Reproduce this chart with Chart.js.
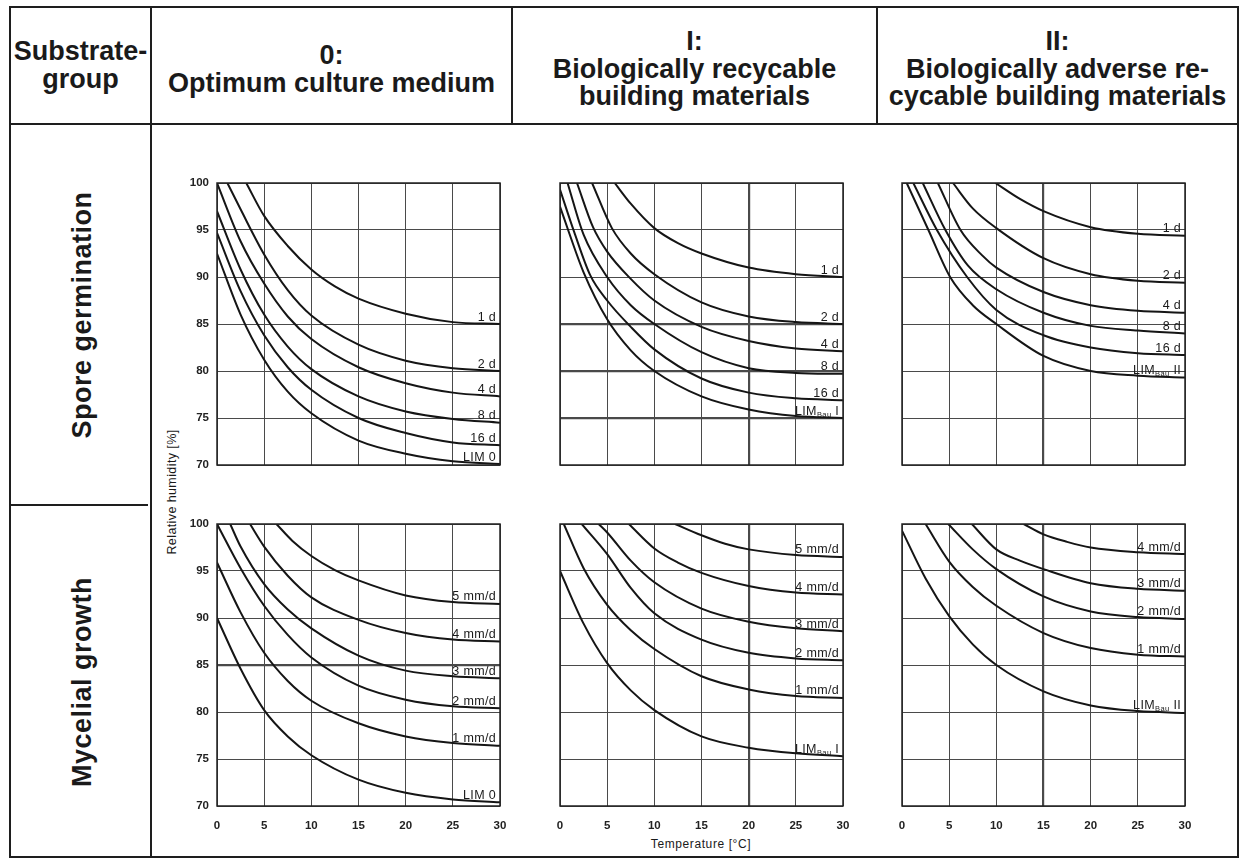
<!DOCTYPE html>
<html>
<head>
<meta charset="utf-8">
<script src="https://cdn.jsdelivr.net/npm/chart.js@4.4.1/dist/chart.umd.min.js"></script>
<style>
  html,body{margin:0;padding:0;background:#fff;}
  #root{position:relative;width:1243px;height:859px;overflow:hidden;background:#fff;font-family:"Liberation Sans",Arial,sans-serif;color:#1a1a1a;}
  .ln{position:absolute;background:#1e1e1e;}
  .hd{position:absolute;display:flex;align-items:center;justify-content:center;text-align:center;font-weight:bold;font-size:27px;line-height:27.5px;}
  .rot{position:absolute;transform:translate(-50%,-50%) rotate(-90deg);white-space:nowrap;}
  .pn{position:absolute;}
</style>
</head>
<body>
<div id="root">
  <!-- table lines -->
  <div class="ln" style="left:9px;top:6px;width:1230px;height:2px;"></div>
  <div class="ln" style="left:9px;top:856px;width:1230px;height:2px;"></div>
  <div class="ln" style="left:9px;top:6px;width:2px;height:852px;"></div>
  <div class="ln" style="left:1237px;top:6px;width:2px;height:852px;"></div>
  <div class="ln" style="left:150px;top:6px;width:2px;height:852px;"></div>
  <div class="ln" style="left:9px;top:123px;width:1230px;height:2px;"></div>
  <div class="ln" style="left:511px;top:6px;width:2px;height:118px;"></div>
  <div class="ln" style="left:876px;top:6px;width:2px;height:118px;"></div>
  <div class="ln" style="left:9px;top:504px;width:139px;height:2px;"></div>

  <!-- header texts -->
  <div class="hd" style="left:11px;top:8px;width:139px;height:115px;">Substrate-<br>group</div>
  <div class="hd" style="left:152px;top:12px;width:359px;height:115px;">0:<br>Optimum culture medium</div>
  <div class="hd" style="left:513px;top:12px;width:363px;height:115px;">I:<br>Biologically recycable<br>building materials</div>
  <div class="hd" style="left:878px;top:12px;width:359px;height:115px;">II:<br>Biologically adverse re-<br>cycable building materials</div>

  <!-- row labels -->
  <div class="rot" style="left:82px;top:315px;font-weight:bold;font-size:27px;letter-spacing:0.5px;">Spore germination</div>
  <div class="rot" style="left:82px;top:682px;font-weight:bold;font-size:27px;letter-spacing:0.5px;">Mycelial growth</div>

  <!-- axis titles -->
  <div class="rot" style="left:172px;top:492px;font-size:12.5px;letter-spacing:0.4px;">Relative humidity [%]</div>
  <div style="position:absolute;left:600px;width:202px;top:837px;text-align:center;font-size:12px;letter-spacing:0.6px;">Temperature [°C]</div>

  <div class="pn" style="left:167px;top:173px;"><canvas id="c1" width="343" height="332"></canvas></div>
  <div class="pn" style="left:510px;top:173px;"><canvas id="c2" width="343" height="332"></canvas></div>
  <div class="pn" style="left:852px;top:173px;"><canvas id="c3" width="343" height="332"></canvas></div>
  <div class="pn" style="left:167px;top:514px;"><canvas id="c4" width="343" height="332"></canvas></div>
  <div class="pn" style="left:510px;top:514px;"><canvas id="c5" width="343" height="332"></canvas></div>
  <div class="pn" style="left:852px;top:514px;"><canvas id="c6" width="343" height="332"></canvas></div>
</div>
<script>
// ---------- data (temperature °C, relative humidity %) ----------
const xTicks = [0, 5, 10, 15, 20, 25, 30];
const yTicks = [70, 75, 80, 85, 90, 95, 100];

const spore0Names = ['1 d', '2 d', '4 d', '8 d', '16 d', 'LIM 0'];
const spore0 = [
  [[3.1,100],[5,96.5],[7.5,93.3],[10,90.8],[12.5,89],[15,87.7],[20,86.1],[25,85.2],[30,85]],
  [[1.1,100],[2.5,97.2],[5,92.4],[7.5,88.6],[10,85.9],[15,82.8],[20,81.1],[25,80.3],[30,80]],
  [[0,100],[2.5,93.8],[5,89.3],[7.5,85.8],[10,83.4],[15,80.4],[20,78.7],[25,77.7],[30,77.3]],
  [[0,97],[2.5,90.8],[5,86],[7.5,82.6],[10,80.2],[15,77.3],[20,75.7],[25,74.9],[30,74.5]],
  [[0,94.7],[2.5,88.5],[5,83.8],[7.5,80.4],[10,78],[15,75],[20,73.4],[25,72.4],[30,72.1]],
  [[0,92.5],[2.5,86],[5,81.2],[7.5,77.8],[10,75.5],[15,72.6],[20,71.2],[25,70.4],[30,70.1]]
];

const spore1Names = ['1 d', '2 d', '4 d', '8 d', '16 d', 'LIM_Bau I'];
const spore1 = [
  [[5.8,100],[7.5,97.8],[10,95.2],[12.5,93.6],[15,92.5],[20,91],[25,90.3],[30,90]],
  [[3.4,100],[5.5,95.2],[7.5,92.5],[10,90.3],[15,87.3],[20,85.8],[25,85.2],[30,85]],
  [[1.8,100],[3.5,95.3],[5,92.7],[7.5,89.8],[10,87.5],[15,84.7],[20,83.2],[25,82.4],[30,82.1]],
  [[0.8,100],[2.5,94.5],[5,90],[7.5,87],[10,85],[15,82],[20,80.3],[25,79.8],[30,79.7]],
  [[0,99.3],[1.5,94.8],[3.2,90.2],[5,87.5],[7.5,84.7],[10,82.3],[15,79.2],[20,77.7],[25,77.1],[30,76.9]],
  [[0,97.5],[1,94.6],[2.5,90.5],[5,85.5],[7.5,82.2],[10,80],[15,77.3],[20,75.9],[25,75.2],[30,75]]
];

const spore2Names = ['1 d', '2 d', '4 d', '8 d', '16 d', 'LIM_Bau II'];
const spore2 = [
  [[9.9,100],[12.5,98.3],[15,97],[20,95.3],[25,94.6],[30,94.4]],
  [[5.4,100],[7.5,97.3],[10,95.2],[15,92],[20,90.3],[25,89.6],[30,89.4]],
  [[3.8,100],[6.2,95],[8.5,92.3],[10,91],[15,88.4],[20,87],[25,86.4],[30,86.2]],
  [[2.2,100],[4.6,95],[7,91.2],[10,88.7],[15,86.2],[20,84.8],[25,84.3],[30,84]],
  [[1.2,100],[3.7,95],[6.9,90],[10,86.5],[15,83.8],[20,82.5],[25,81.9],[30,81.7]],
  [[0.5,100],[2.8,95],[5.1,90],[7.5,87],[10,85],[15,81.6],[20,80],[25,79.5],[30,79.3]]
];

const myc0Names = ['5 mm/d', '4 mm/d', '3 mm/d', '2 mm/d', '1 mm/d', 'LIM 0'];
const myc0 = [
  [[6.3,100],[8,98.2],[10,96.6],[12.5,95.1],[15,94],[20,92.4],[25,91.7],[30,91.5]],
  [[3.5,100],[5,97.6],[7.5,94.5],[10,92.2],[15,89.8],[20,88.4],[25,87.7],[30,87.5]],
  [[1.4,100],[2.5,97.6],[5,93.6],[7.5,90.9],[10,88.9],[15,86],[20,84.4],[25,83.8],[30,83.6]],
  [[0,100],[2.5,95.3],[5,91.3],[7.5,88.2],[10,85.8],[15,82.8],[20,81.3],[25,80.6],[30,80.4]],
  [[0,95.9],[2.5,90.6],[5,86.3],[7.5,83.3],[10,81.2],[15,78.8],[20,77.4],[25,76.7],[30,76.4]],
  [[0,90],[2.5,84.6],[5,80.2],[7.5,77.4],[10,75.4],[15,72.8],[20,71.4],[25,70.7],[30,70.4]]
];

const myc1Names = ['5 mm/d', '4 mm/d', '3 mm/d', '2 mm/d', '1 mm/d', 'LIM_Bau I'];
const myc1 = [
  [[12.2,100],[15,98.8],[17.5,97.9],[20,97.3],[25,96.7],[30,96.5]],
  [[7.3,100],[10,97.4],[12.5,95.9],[15,94.8],[20,93.4],[25,92.7],[30,92.5]],
  [[4.1,100],[5,99.1],[7.5,96.1],[10,93.8],[15,91],[20,89.6],[25,88.9],[30,88.6]],
  [[2.3,100],[5,96.8],[7.5,93.2],[10,90.5],[15,87.7],[20,86.3],[25,85.7],[30,85.5]],
  [[0.4,100],[2.5,95.3],[5,91.4],[7.5,88.7],[10,86.7],[15,83.8],[20,82.4],[25,81.7],[30,81.5]],
  [[0,95],[2.5,89.4],[5,85.2],[7.5,82.3],[10,80.2],[15,77.4],[20,76.2],[25,75.6],[30,75.3]]
];

const myc2Names = ['4 mm/d', '3 mm/d', '2 mm/d', '1 mm/d', 'LIM_Bau II'];
const myc2 = [
  [[12.9,100],[15,98.9],[17.5,98.1],[20,97.5],[25,97],[30,96.8]],
  [[7.4,100],[10,97.3],[12.5,96.1],[15,95.2],[20,93.7],[25,93.1],[30,92.9]],
  [[4.9,100],[7.5,97.3],[10,95.2],[15,92.3],[20,90.7],[25,90.1],[30,89.9]],
  [[2.5,100],[5,96],[7.5,93.3],[10,91.3],[15,88.4],[20,86.8],[25,86.1],[30,85.9]],
  [[0,99.3],[2.5,94.2],[5,90.2],[7.5,87.2],[10,85],[15,82.2],[20,80.7],[25,80.1],[30,79.9]]
];

// ---------- drawing ----------
const FONT = '"Liberation Sans", Arial, sans-serif';

const framePlugin = {
  id: 'frameAndLabels',
  afterDatasetsDraw(chart) {
    const {ctx, chartArea: a, scales} = chart;
    ctx.save();
    ctx.strokeStyle = '#222';
    ctx.lineWidth = 1.5;
    ctx.strokeRect(a.left, a.top, a.right - a.left, a.bottom - a.top);
    const names = chart.options.plugins.frameAndLabels.names;
    ctx.fillStyle = '#1a1a1a';
    ctx.textBaseline = 'alphabetic';
    if ('letterSpacing' in ctx) ctx.letterSpacing = '0.4px';
    chart.data.datasets.forEach((ds, i) => {
      const last = ds.data[ds.data.length - 1];
      const xr = scales.x.getPixelForValue(29.6);
      const yb = scales.y.getPixelForValue(last.y) - 3.5;
      const name = names[i];
      let main = name, sub = '', tail = '';
      if (name.includes('_')) {
        const p = name.split('_');
        main = p[0];
        const sp = p[1].indexOf(' ');
        sub = p[1].slice(0, sp);
        tail = p[1].slice(sp);
      }
      const f1 = '12.5px ' + FONT, f2 = '7.5px ' + FONT;
      ctx.font = f1; const w1 = ctx.measureText(main).width; const w3 = ctx.measureText(tail).width;
      ctx.font = f2; const w2 = ctx.measureText(sub).width;
      let x = xr - (w1 + w2 + w3);
      ctx.textAlign = 'left';
      ctx.font = f1; ctx.fillText(main, x, yb); x += w1;
      if (sub) { ctx.font = f2; ctx.fillText(sub, x, yb + 2); x += w2; ctx.font = f1; ctx.fillText(tail, x, yb); }
    });
    ctx.restore();
  }
};

function makePanel(id, names, series, showY, showX, thickX, thickY) {
  const datasets = series.map((pts, i) => ({
    label: names[i],
    data: pts.map(([x, y]) => ({x, y})),
    borderColor: '#151515',
    borderWidth: 2,
    pointRadius: 0,
    fill: false,
    tension: 0.4,
    cubicInterpolationMode: 'monotone'
  }));
  new Chart(document.getElementById(id), {
    type: 'line',
    data: {datasets},
    plugins: [framePlugin],
    options: {
      responsive: false,
      animation: false,
      devicePixelRatio: 1,
      layout: {padding: {left: 0, top: 10, right: 10, bottom: 0}},
      plugins: {legend: {display: false}, tooltip: {enabled: false}, frameAndLabels: {names}},
      scales: {
        x: {
          type: 'linear', min: xTicks[0], max: xTicks[xTicks.length - 1],
          afterBuildTicks: s => { s.ticks = xTicks.map(v => ({value: v})); },
          afterFit: s => { s.height = 40; s.paddingLeft = 0; s.paddingRight = 0; s.paddingTop = 0; s.paddingBottom = 0; },
          border: {display: false},
          grid: {drawTicks: false, color: '#4a4a4a',
                 lineWidth: c => (thickX.includes(c.tick && c.tick.value) ? 2.2 : 1)},
          ticks: {display: showX, padding: 13, color: '#222', font: {family: FONT, size: 11.5, weight: 'bold'}}
        },
        y: {
          type: 'linear', min: yTicks[0], max: yTicks[yTicks.length - 1],
          afterBuildTicks: s => { s.ticks = yTicks.map(v => ({value: v})); },
          afterFit: s => { s.width = 50; s.paddingLeft = 0; s.paddingRight = 0; s.paddingTop = 0; s.paddingBottom = 0; },
          border: {display: false},
          grid: {drawTicks: false, color: '#4a4a4a',
                 lineWidth: c => (thickY.includes(c.tick && c.tick.value) ? 2.2 : 1)},
          ticks: {display: showY, padding: 8, color: '#222', font: {family: FONT, size: 11.5, weight: 'bold'}}
        }
      }
    }
  });
}

makePanel('c1', spore0Names, spore0, true, false, [], []);
makePanel('c2', spore1Names, spore1, false, false, [20], [75, 80, 85]);
makePanel('c3', spore2Names, spore2, false, false, [15], []);
makePanel('c4', myc0Names, myc0, true, true, [], [85]);
makePanel('c5', myc1Names, myc1, false, true, [20], []);
makePanel('c6', myc2Names, myc2, false, true, [15], []);
</script>
</body>
</html>
